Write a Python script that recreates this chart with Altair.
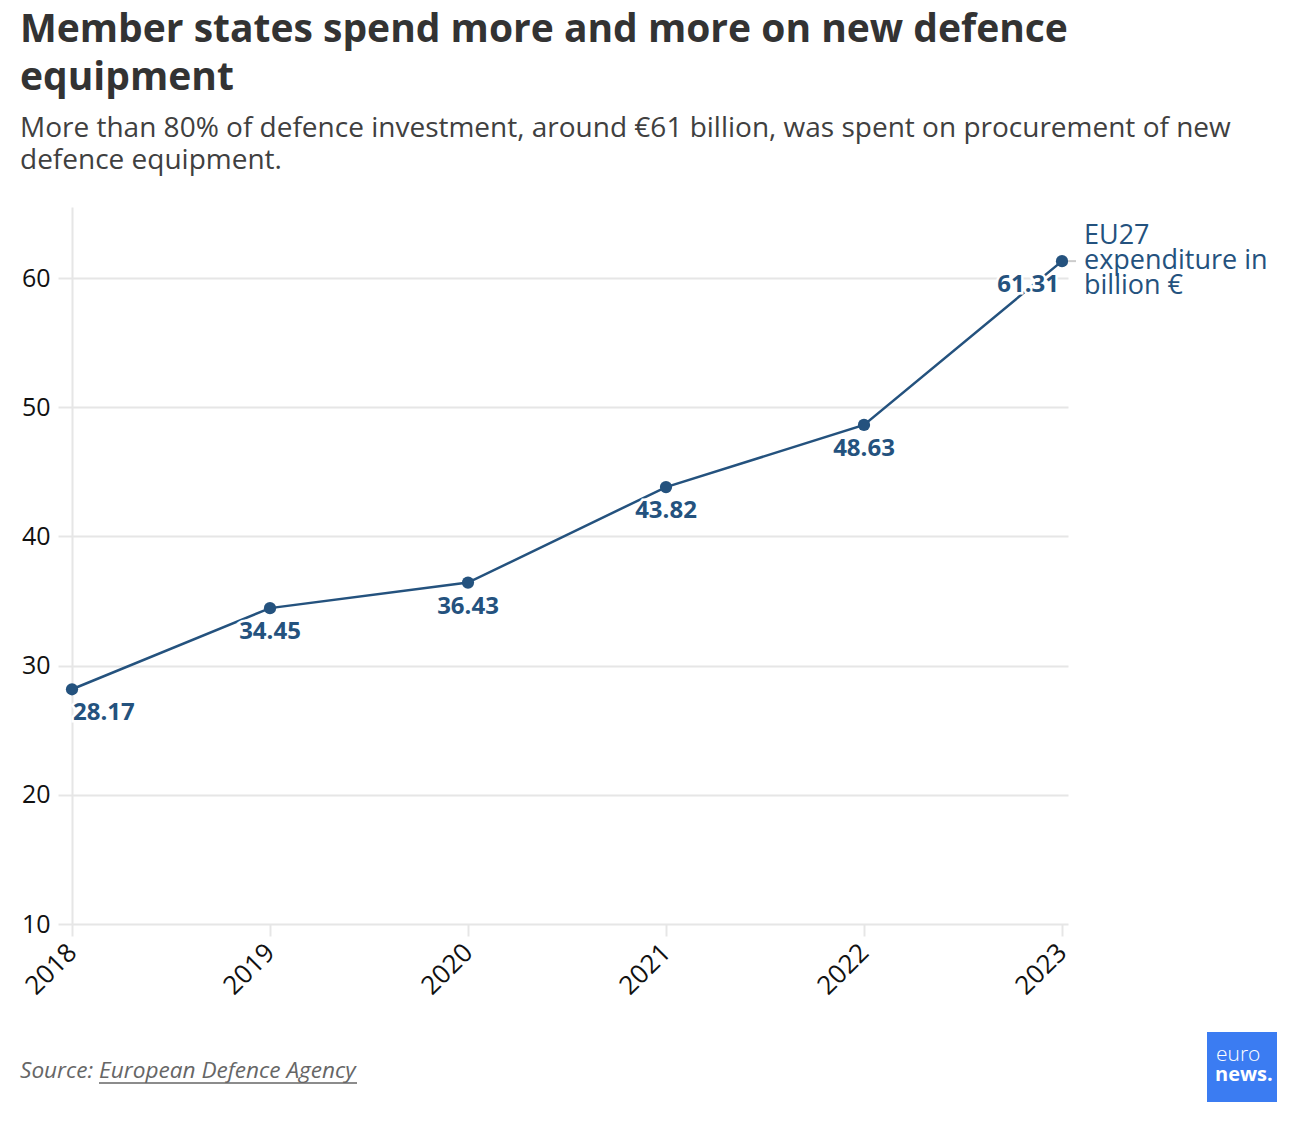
import altair as alt
import pandas as pd

years = [2018, 2019, 2020, 2021, 2022, 2023]
spend = [28.17, 34.45, 36.43, 43.82, 48.63, 61.31]
y_ticks = [10, 20, 30, 40, 50, 60]

series_name = ["EU27", "expenditure in", "billion €"]
title_lines = ["Member states spend more and more on new defence", "equipment"]
subtitle_lines = [
    "More than 80% of defence investment, around €61 billion, was spent on procurement of new",
    "defence equipment.",
]
source_text = "Source: European Defence Agency"

BLUE = "#24527e"
GRID = "#e6e6e6"
FONT = "Open Sans"

df = pd.DataFrame({"year": years, "value": spend})
df["label"] = df["value"].map(lambda v: f"{v:.2f}")

W, H = 996, 717

x = alt.X(
    "year:Q",
    scale=alt.Scale(domain=[2018, 2018 + W / 198], nice=False, zero=False),
    axis=alt.Axis(
        values=years,
        format="d",
        title=None,
        grid=False,
        domain=False,
        ticks=True,
        tickSize=12,
        tickWidth=2,
        tickColor=GRID,
        labelAngle=-45,
        labelAlign="right",
        labelBaseline="middle",
        labelPadding=12,
        labelFontSize=26,
        labelFont=FONT,
        labelColor="#111111",
    ),
)
y = alt.Y(
    "value:Q",
    scale=alt.Scale(domain=[10, 65.5], nice=False, zero=False),
    axis=alt.Axis(
        values=y_ticks,
        title=None,
        grid=True,
        gridColor=GRID,
        gridWidth=2,
        domain=True,
        domainColor=GRID,
        domainWidth=2,
        ticks=True,
        tickSize=14,
        tickWidth=2,
        tickColor=GRID,
        labelPadding=8,
        labelFontSize=25,
        labelFont=FONT,
        labelColor="#111111",
    ),
)

base = alt.Chart(df)

line = base.mark_line(color=BLUE, strokeWidth=2.5).encode(x=x, y=y)
points = base.mark_circle(color=BLUE, size=150, opacity=1).encode(x=x, y=y)


def value_labels(cond, align, dx):
    common = dict(align=align, dx=dx, dy=24, font=FONT, fontSize=24,
                  fontWeight="bold", baseline="middle")
    halo = base.transform_filter(cond).mark_text(
        color=BLUE, stroke="white", strokeWidth=5, **common
    ).encode(x="year:Q", y="value:Q", text="label:N")
    fill = base.transform_filter(cond).mark_text(color=BLUE, **common).encode(
        x="year:Q", y="value:Q", text="label:N"
    )
    return halo + fill


first_yr, last_yr = years[0], years[-1]
labels = (
    value_labels(alt.datum.year == first_yr, "left", 1)
    + value_labels((alt.datum.year > first_yr) & (alt.datum.year < last_yr), "center", 0)
    + value_labels(alt.datum.year == last_yr, "right", -3)
)

last = base.transform_filter(alt.datum.year == last_yr)
connector = last.mark_rule(color="#cccccc", strokeWidth=2).encode(
    x=alt.value(W), x2=alt.value(W + 8), y="value:Q"
)
series_label = last.mark_text(
    align="left", baseline="middle", dx=22, dy=-25, font=FONT, fontSize=27,
    color=BLUE, lineHeight=25,
).encode(x="year:Q", y="value:Q", text=alt.value(series_name))

# Footer: source line with underlined agency name, and the logo tile
src = alt.Chart(pd.DataFrame({"t": [source_text]})).mark_text(
    align="left", baseline="middle", font=FONT, fontSize=22.6, fontStyle="italic",
    color="#666666",
).encode(x=alt.value(-52), y=alt.value(864), text="t:N")
underline = alt.Chart(pd.DataFrame({"t": [0]})).mark_rule(color="#666666", strokeWidth=1.5).encode(
    x=alt.value(27), x2=alt.value(285), y=alt.value(876)
)
logo_box = alt.Chart(pd.DataFrame({"t": [0]})).mark_rect(color="#3b7cf2").encode(
    x=alt.value(1135), x2=alt.value(1205), y=alt.value(825), y2=alt.value(895)
)
logo_euro = alt.Chart(pd.DataFrame({"t": ["euro"]})).mark_text(
    align="left", baseline="middle", font=FONT, fontSize=21, fontWeight=300, color="white",
).encode(x=alt.value(1144), y=alt.value(848), text="t:N")
logo_news = alt.Chart(pd.DataFrame({"t": ["news."]})).mark_text(
    align="left", baseline="middle", font=FONT, fontSize=20, fontWeight="bold", color="white",
).encode(x=alt.value(1143), y=alt.value(868), text="t:N")

chart = alt.layer(
    line, points, labels, connector, series_label,
    src, underline, logo_box, logo_euro, logo_news,
).properties(
    width=W,
    height=H,
    background="white",
    autosize=alt.AutoSizeParams(type="none"),
    padding={"left": 72, "top": 207, "right": 1300 - 72 - W, "bottom": 1122 - 207 - H},
    title=alt.TitleParams(
        text=title_lines,
        subtitle=subtitle_lines,
        anchor="start",
        frame="group",
        dx=-52,
        offset=32,
        font=FONT,
        fontSize=39,
        fontWeight="bold",
        color="#333333",
        lineHeight=48,
        subtitleFont=FONT,
        subtitleFontSize=28,
        subtitleColor="#404040",
        subtitleLineHeight=32,
        subtitlePadding=17,
    ),
).configure_view(stroke=None)

chart.save("out.html", embed_options={"renderer": "svg", "actions": False})
